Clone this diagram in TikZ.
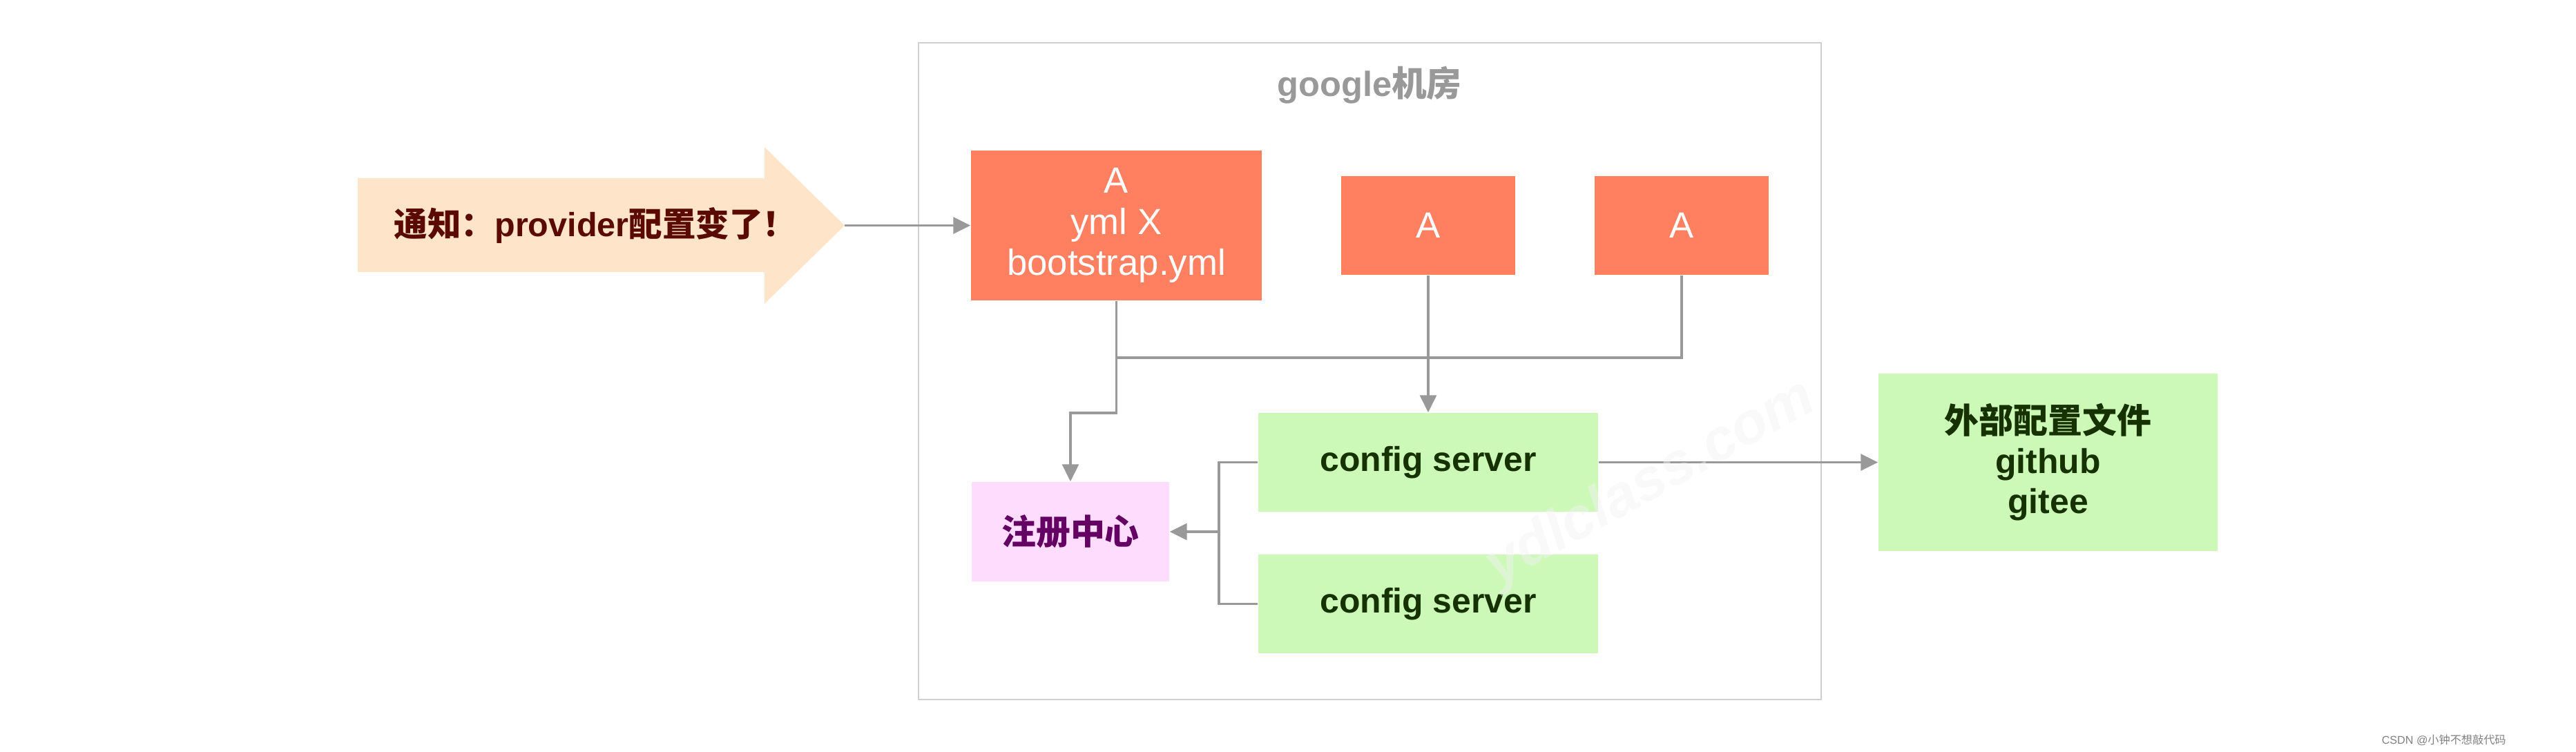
\documentclass[tikz,border=0pt]{standalone}
\usepackage{fontspec}
\setmainfont{Liberation Sans}
\newfontfamily\zh{Noto Sans CJK SC}
\usetikzlibrary{arrows.meta}
\definecolor{appred}{RGB}{255,128,96}
\definecolor{cfggreen}{RGB}{204,249,184}
\definecolor{regpink}{RGB}{253,220,254}
\definecolor{notebg}{RGB}{254,229,202}
\definecolor{linegray}{RGB}{153,153,153}
\definecolor{roomgray}{RGB}{208,208,208}
\definecolor{notered}{RGB}{90,10,0}
\definecolor{cfgtext}{RGB}{22,50,0}
\definecolor{regtext}{RGB}{100,0,100}

\begin{document}
\begin{tikzpicture}[
  app/.style={fill=appred,text=white,align=center,inner sep=0pt,font=\fontsize{15}{17}\selectfont},
  cfg/.style={fill=cfggreen,text=cfgtext,align=center,inner sep=0pt,font=\fontsize{14.2}{16.5}\selectfont\bfseries},
  wire/.style={draw=linegray,line width=0.9pt},
  wirearrow/.style={wire,-{Triangle[length=2.5mm,width=2.4mm]}}]
\useasboundingbox (0,0) rectangle (37.30,10.88);
\node (room) [draw=roomgray,line width=0.6pt,minimum width=13.07cm,minimum height=9.51cm] at (19.835,5.505){};
\node (roomtitle) [anchor=base,text=linegray,font=\fontsize{14.4}{16}\selectfont\bfseries] at (19.83,9.48){google{\zh 机房}};
\fill[notebg] (5.18,8.30)--(11.07,8.30)--(11.07,8.75)--(12.23,7.615)--(11.07,6.48)--(11.07,6.94)--(5.18,6.94)--cycle;
\coordinate (noticetip) at (12.23,7.615);
\node (notice) [text=notered,font=\fontsize{13.8}{16}\selectfont\bfseries] at (8.62,7.62){{\zh 通知：}provider{\zh 配置变了！}};
\node (appA) [app,minimum width=4.21cm,minimum height=2.17cm] at (16.165,7.615){A\\yml X\\bootstrap.yml};
\node (appB) [app,minimum width=2.52cm,minimum height=1.43cm] at (20.68,7.615){A};
\node (appC) [app,minimum width=2.52cm,minimum height=1.43cm] at (24.35,7.615){A};
\node (cfg1) [cfg,minimum width=4.92cm,minimum height=1.43cm] at (20.68,4.185){config server};
\node (cfg2) [cfg,minimum width=4.92cm,minimum height=1.43cm] at (20.68,2.135){config server};
\node (registry) [fill=regpink,text=regtext,inner sep=0pt,minimum width=2.86cm,minimum height=1.44cm,font=\fontsize{14.2}{16}\selectfont\bfseries\zh] at (15.50,3.18){注册中心};
\node (extcfg) [cfg,minimum width=4.91cm,minimum height=2.57cm,font=\fontsize{14.2}{16.5}\selectfont\bfseries] at (29.655,4.185){{\zh 外部配置文件}\\github\\gitee};
\coordinate (join) at (17.65,3.18);
\draw[wirearrow] (noticetip)--(appA);
\draw[wire] (appC.south) |- (appA.south |- 0,5.70);
\draw[wirearrow] (appA.south)--(appA.south |- 0,4.90) -| (registry.north);
\draw[wirearrow] (appB.south)--(cfg1.north);
\draw[wire] (cfg1.west) -| (join) |- (cfg2.west);
\draw[wirearrow] (join)--(registry.east);
\draw[wirearrow] (cfg1.east)--(extcfg.west);
\node (mark) [rotate=29,text=gray!10,opacity=.45,font=\fontsize{24}{24}\selectfont\bfseries\itshape] at (23.91,3.88){ydlclass.com};
\node (credit) [anchor=base east,text=gray,font=\fontsize{4.6}{6}\selectfont] at (36.41,0.11){CSDN @{\zh 小钟不想敲代码}};
\end{tikzpicture}
\end{document}
